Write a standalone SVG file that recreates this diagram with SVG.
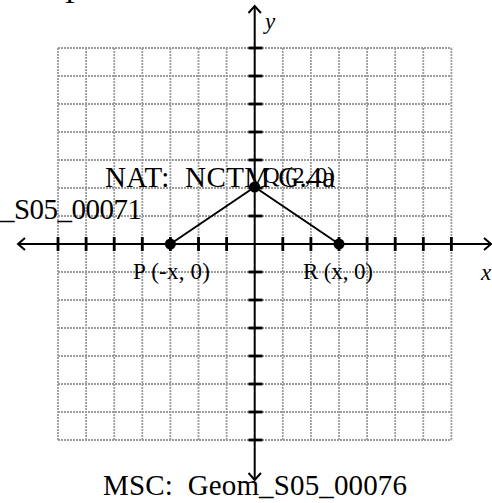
<svg xmlns="http://www.w3.org/2000/svg" width="492" height="503" viewBox="0 0 492 503">
<style>
.grid line{stroke:#9c9c9c;stroke-width:1.8;stroke-dasharray:2 1}
.axis{stroke:#000;stroke-width:2;fill:none}
.tick{stroke:#000;stroke-width:2.8}
.seg{stroke:#000;stroke-width:2}
.t{font-family:"Liberation Serif","Times New Roman",serif;fill:#000;white-space:pre}
.lbl{font-size:23px}
.big{font-size:29px}
.it{font-style:italic;font-size:23px}
</style>
<rect width="492" height="503" fill="#fff"/>
<g class="grid" id="grid">
<line x1="58" y1="48" x2="58" y2="440"/>
<line x1="86.1" y1="48" x2="86.1" y2="440"/>
<line x1="114.2" y1="48" x2="114.2" y2="440"/>
<line x1="142.3" y1="48" x2="142.3" y2="440"/>
<line x1="170.4" y1="48" x2="170.4" y2="440"/>
<line x1="198.5" y1="48" x2="198.5" y2="440"/>
<line x1="226.6" y1="48" x2="226.6" y2="440"/>
<line x1="282.8" y1="48" x2="282.8" y2="440"/>
<line x1="310.9" y1="48" x2="310.9" y2="440"/>
<line x1="339" y1="48" x2="339" y2="440"/>
<line x1="367.1" y1="48" x2="367.1" y2="440"/>
<line x1="395.2" y1="48" x2="395.2" y2="440"/>
<line x1="423.3" y1="48" x2="423.3" y2="440"/>
<line x1="451.4" y1="48" x2="451.4" y2="440"/>
<line x1="58" y1="48" x2="451.4" y2="48"/>
<line x1="58" y1="76" x2="451.4" y2="76"/>
<line x1="58" y1="104" x2="451.4" y2="104"/>
<line x1="58" y1="132" x2="451.4" y2="132"/>
<line x1="58" y1="160" x2="451.4" y2="160"/>
<line x1="58" y1="188" x2="451.4" y2="188"/>
<line x1="58" y1="216" x2="451.4" y2="216"/>
<line x1="58" y1="272" x2="451.4" y2="272"/>
<line x1="58" y1="300" x2="451.4" y2="300"/>
<line x1="58" y1="328" x2="451.4" y2="328"/>
<line x1="58" y1="356" x2="451.4" y2="356"/>
<line x1="58" y1="384" x2="451.4" y2="384"/>
<line x1="58" y1="412" x2="451.4" y2="412"/>
<line x1="58" y1="440" x2="451.4" y2="440"/>
</g>
<g id="axes">
<line class="axis" x1="254.7" y1="6" x2="254.7" y2="480"/>
<line class="axis" x1="18" y1="244" x2="491" y2="244"/>
<polyline class="axis" points="248.5,13 254.7,6 260.9,13"/>
<polyline class="axis" points="248.5,473 254.7,480 260.9,473"/>
<polyline class="axis" points="25,238 18,244 25,250"/>
<polyline class="axis" points="484,238 491,244 484,250"/>
<g id="yticks">
<line class="tick" x1="248.5" y1="48" x2="262.5" y2="48"/>
<line class="tick" x1="248.5" y1="76" x2="262.5" y2="76"/>
<line class="tick" x1="248.5" y1="104" x2="262.5" y2="104"/>
<line class="tick" x1="248.5" y1="132" x2="262.5" y2="132"/>
<line class="tick" x1="248.5" y1="160" x2="262.5" y2="160"/>
<line class="tick" x1="248.5" y1="188" x2="262.5" y2="188"/>
<line class="tick" x1="248.5" y1="216" x2="262.5" y2="216"/>
<line class="tick" x1="248.5" y1="272" x2="262.5" y2="272"/>
<line class="tick" x1="248.5" y1="300" x2="262.5" y2="300"/>
<line class="tick" x1="248.5" y1="328" x2="262.5" y2="328"/>
<line class="tick" x1="248.5" y1="356" x2="262.5" y2="356"/>
<line class="tick" x1="248.5" y1="384" x2="262.5" y2="384"/>
<line class="tick" x1="248.5" y1="412" x2="262.5" y2="412"/>
<line class="tick" x1="248.5" y1="440" x2="262.5" y2="440"/>
</g>
<g id="xticks">
<line class="tick" x1="58" y1="237" x2="58" y2="251"/>
<line class="tick" x1="86.1" y1="237" x2="86.1" y2="251"/>
<line class="tick" x1="114.2" y1="237" x2="114.2" y2="251"/>
<line class="tick" x1="142.3" y1="237" x2="142.3" y2="251"/>
<line class="tick" x1="170.4" y1="237" x2="170.4" y2="251"/>
<line class="tick" x1="198.5" y1="237" x2="198.5" y2="251"/>
<line class="tick" x1="226.6" y1="237" x2="226.6" y2="251"/>
<line class="tick" x1="282.8" y1="237" x2="282.8" y2="251"/>
<line class="tick" x1="310.9" y1="237" x2="310.9" y2="251"/>
<line class="tick" x1="339" y1="237" x2="339" y2="251"/>
<line class="tick" x1="367.1" y1="237" x2="367.1" y2="251"/>
<line class="tick" x1="395.2" y1="237" x2="395.2" y2="251"/>
<line class="tick" x1="423.3" y1="237" x2="423.3" y2="251"/>
<line class="tick" x1="451.4" y1="237" x2="451.4" y2="251"/>
</g>
<text class="t it" x="265" y="29">y</text>
<text class="t it" x="481" y="280">x</text>
</g>
<g id="connectors">
<line class="seg" x1="170.4" y1="244" x2="254.7" y2="187"/>
<line class="seg" x1="254.7" y1="187" x2="339" y2="244"/>
</g>
<g id="P"><circle cx="170.4" cy="244" r="5.5" fill="#000"/><text class="t lbl" x="133" y="279" textLength="77" lengthAdjust="spacing">P (-x, 0)</text></g>
<g id="R"><circle cx="339" cy="244" r="5.5" fill="#000"/><text class="t lbl" x="303" y="279" textLength="70" lengthAdjust="spacing">R (x, 0)</text></g>
<g id="texts">
<text class="t big" x="65" y="3">P</text>
<text class="t big" x="105" y="187" textLength="230" lengthAdjust="spacing" xml:space="preserve">NAT:  NCTM G.4a</text>
<text class="t big" x="0" y="219" textLength="142" lengthAdjust="spacing">_S05_00071</text>
<text class="t big" x="103" y="495" textLength="304" lengthAdjust="spacing" xml:space="preserve">MSC:  Geom_S05_00076</text>
</g>
<g id="Q"><circle cx="254.7" cy="187" r="5.5" fill="#000"/><text class="t lbl" x="263" y="183" textLength="72" lengthAdjust="spacing">Q (2, 0)</text></g>
</svg>
